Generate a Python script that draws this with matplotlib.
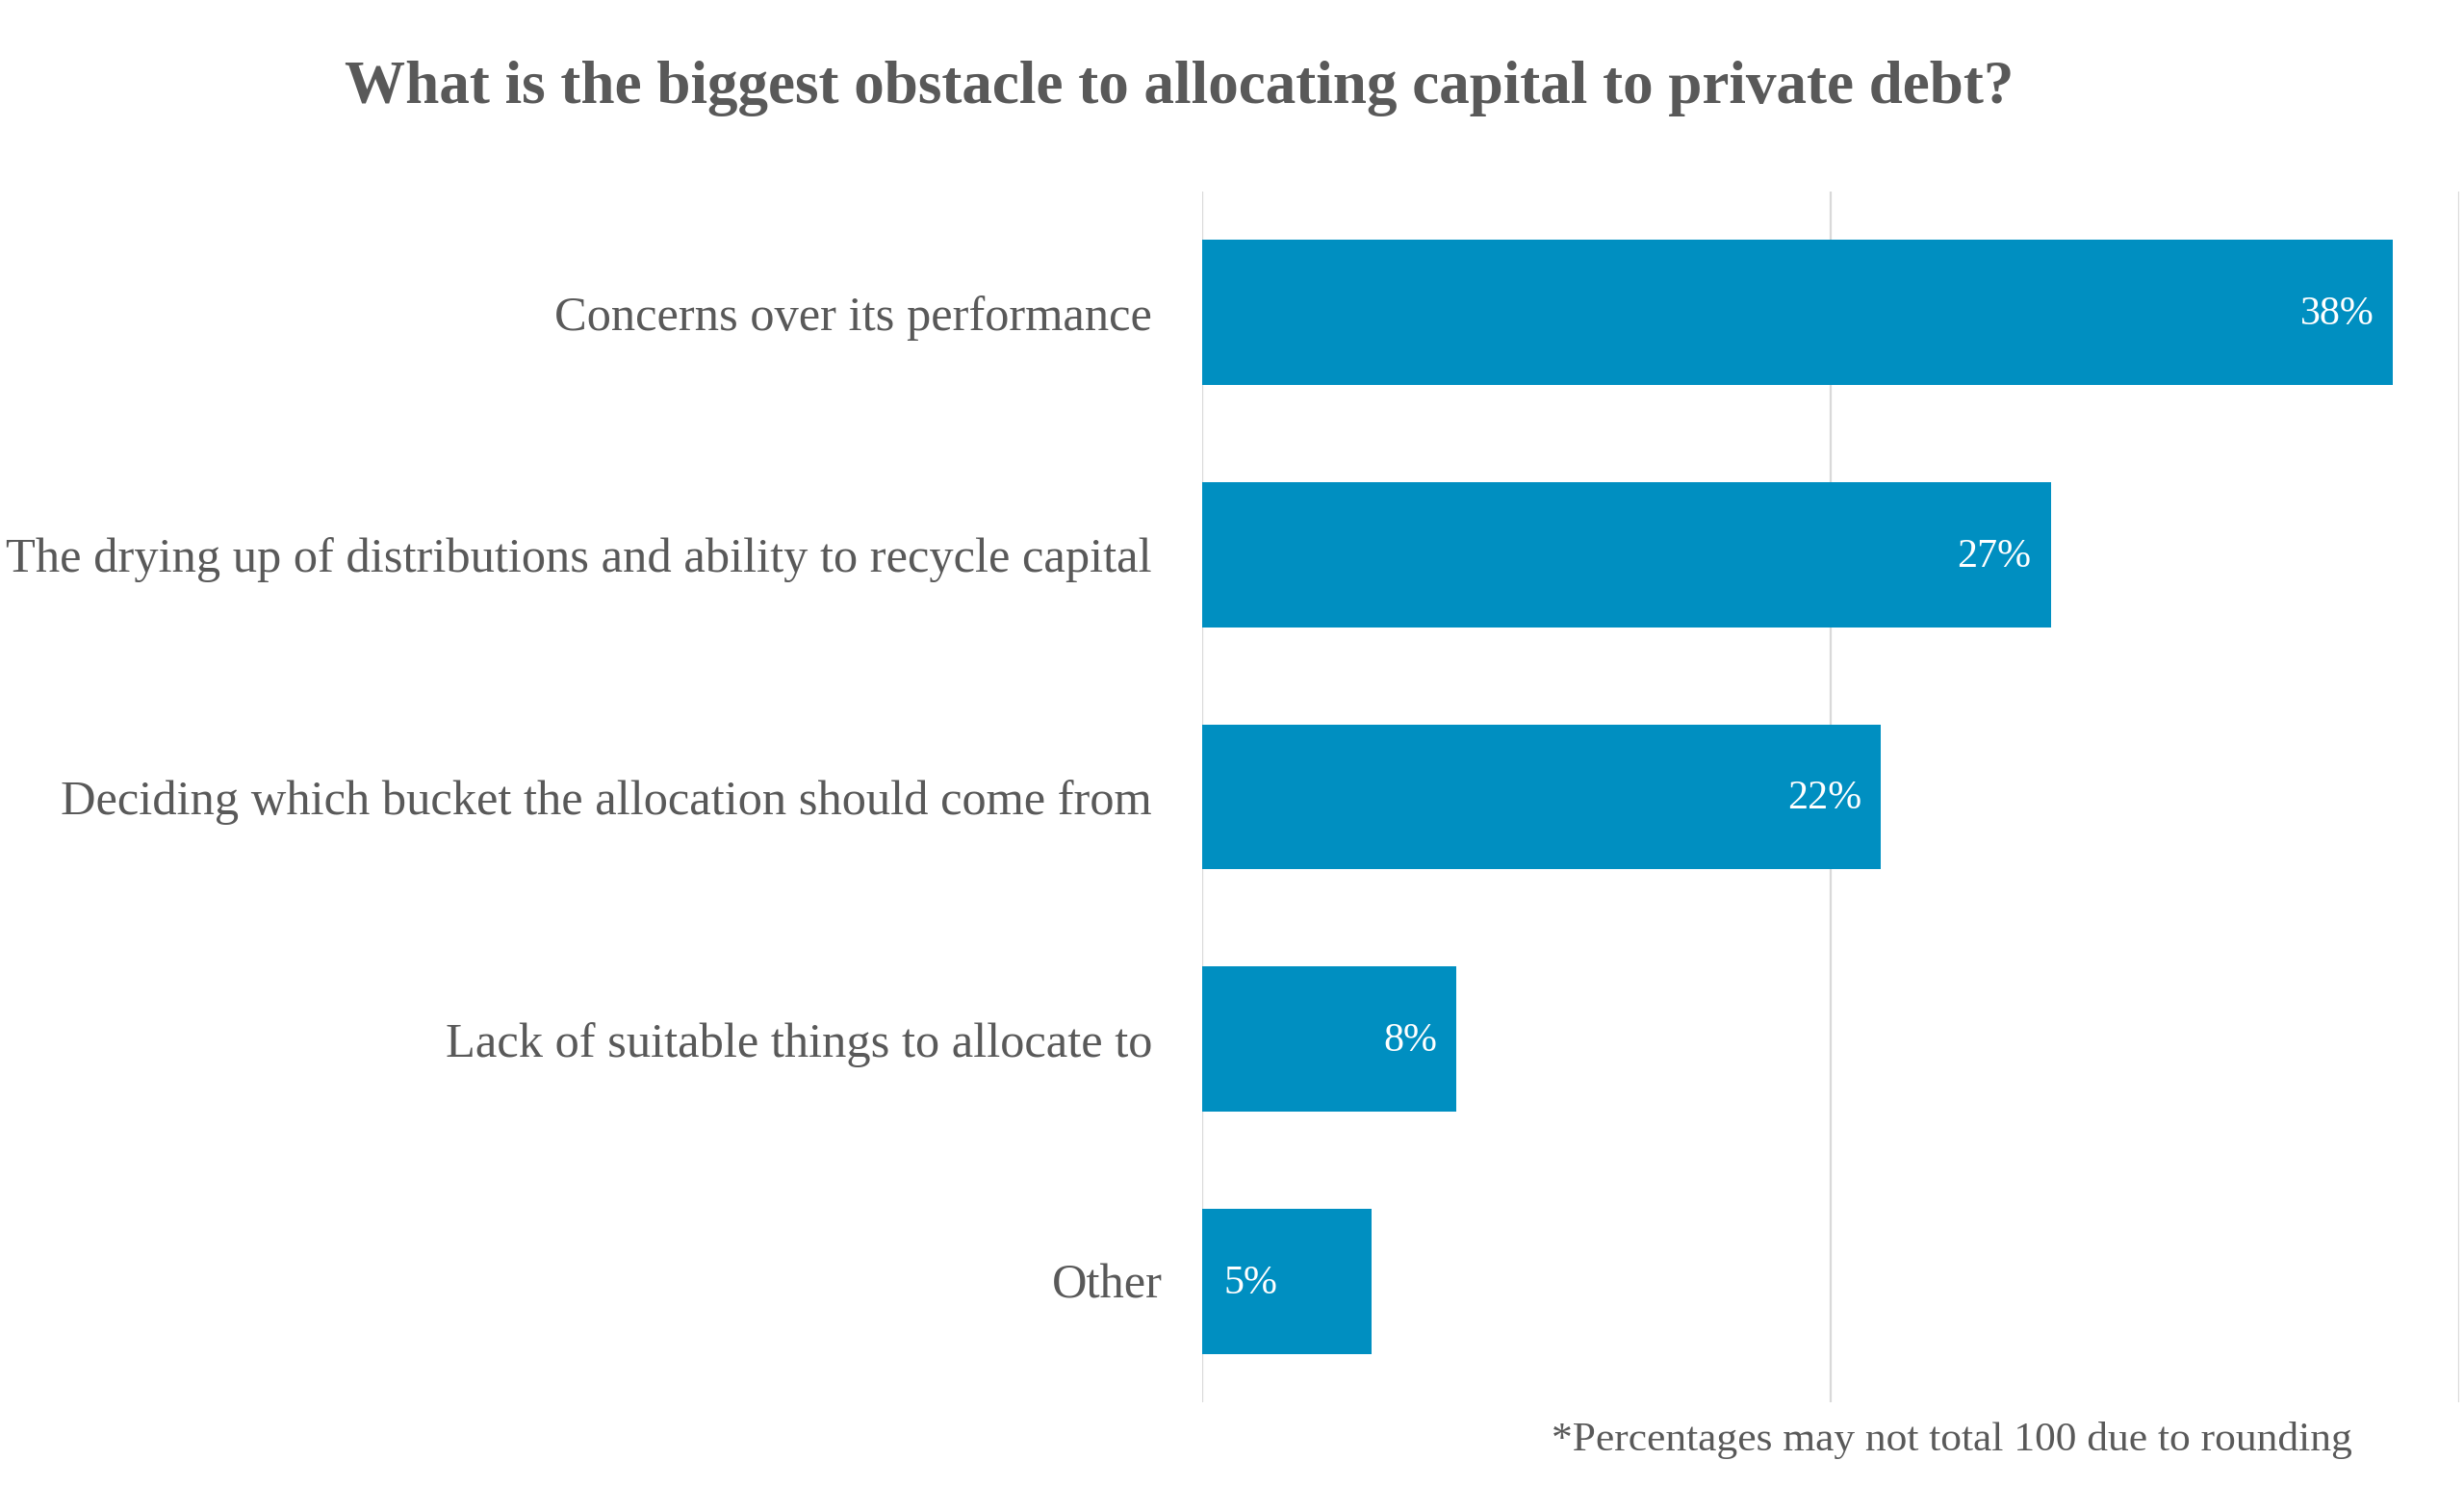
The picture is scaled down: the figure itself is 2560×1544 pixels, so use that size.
import matplotlib
matplotlib.use("Agg")
import matplotlib.pyplot as plt
from matplotlib.transforms import offset_copy

categories = [
    "Concerns over its performance",
    "The drying up of distributions and ability to recycle capital",
    "Deciding which bucket the allocation should come from",
    "Lack of suitable things to allocate to",
    "Other",
]
values = [37.9, 27.0, 21.6, 8.1, 5.4]
value_labels = ["38%", "27%", "22%", "8%", "5%"]
x_ticks = [0, 20, 40]
title_text = "What is the biggest obstacle to allocating capital to private debt?"
footnote_text = "*Percentages may not total 100 due to rounding"

W, H = 2560, 1544
DPI = 100
FONT = ["Liberation Serif", "DejaVu Serif"]
GREY = "#595959"
BAR = "#008FC1"
GRID = "#D9D9D9"

fig = plt.figure(figsize=(W / DPI, H / DPI), dpi=DPI)
fig.patch.set_facecolor("white")
renderer = fig.canvas.get_renderer()


def fit_size(text, target_px, weight="normal", start=30):
    t = fig.text(0, 0, text, fontsize=start, family=FONT, fontweight=weight)
    w = t.get_window_extent(renderer=renderer).width
    t.remove()
    return start * target_px / w


ax = fig.add_axes([1249 / W, 1 - 1457 / H, (2555 - 1249) / W, (1457 - 199) / H])
ypos = list(range(len(categories)))
ax.barh(ypos, values, height=0.6, color=BAR, zorder=3)
ax.set_xlim(x_ticks[0], x_ticks[-1])
ax.set_ylim(len(categories) - 0.5, -0.5)
ax.set_xticks(x_ticks)
ax.xaxis.grid(True, color=GRID, linewidth=1.6, zorder=0)
ax.yaxis.grid(False)
for s in ax.spines.values():
    s.set_visible(False)
ax.tick_params(axis="x", length=0, labelbottom=False)

cat_size = fit_size(categories[1], 1189)
ax.set_yticks(ypos)
ax.set_yticklabels(categories, family=FONT, fontsize=cat_size, color=GREY)
ax.tick_params(axis="y", length=0, pad=52 * 72 / DPI)
# the last label sits a little closer to the axis in the reference
ax.get_yticklabels()[-1].set_transform(
    ax.get_yaxis_text1_transform(52 * 72 / DPI)[0]
    + matplotlib.transforms.ScaledTranslation(11 / DPI, 0, fig.dpi_scale_trans))

val_size = fit_size("38%", 77)
for i, (v, lab) in enumerate(zip(values, value_labels)):
    if v >= 6:
        tr = offset_copy(ax.transData, fig=fig, x=-20, y=-2, units="dots")
        ax.text(v, i, lab, transform=tr, ha="right", va="center",
                color="white", fontsize=val_size, family=FONT, zorder=4)
    else:
        tr = offset_copy(ax.transData, fig=fig, x=22, y=-3, units="dots")
        ax.text(0, i, lab, transform=tr, ha="left", va="center",
                color="white", fontsize=val_size, family=FONT, zorder=4)

title_size = fit_size(title_text, 1731, weight="bold")
fig.text(1225 / W, 1 - 92 / H, title_text, ha="center", va="center",
         fontsize=title_size, fontweight="bold", family=FONT, color=GREY)

foot_size = fit_size(footnote_text, 832)
fig.text(2444 / W, 1 - 1496 / H, footnote_text, ha="right", va="center",
         fontsize=foot_size, family=FONT, color=GREY)

fig.savefig("out.png", dpi=DPI, facecolor="white")
